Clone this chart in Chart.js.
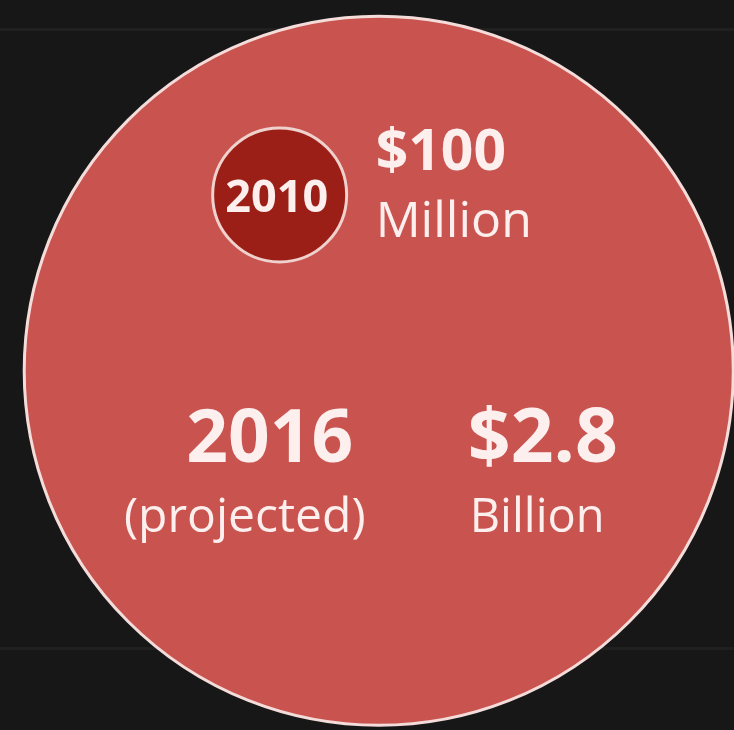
<!DOCTYPE html>
<html>
<head>
<meta charset="utf-8">
<title>Market size 2010 vs 2016</title>
<script src="https://cdn.jsdelivr.net/npm/chart.js@4.4.1/dist/chart.umd.min.js"></script>
<style>
    html, body { margin: 0; padding: 0; background: #171717; }
    .chart-box { position: relative; width: 734px; height: 730px; }
</style>
</head>
<body>
<div class="chart-box">
    <canvas id="chartMercado"></canvas>
</div>
<script>
// Years and market value (in millions of dollars)
const years = ['2010', '2016'];
const yearNotes = ['', '(projected)'];
const marketValue = [100, 2800];
const valueLabels = ['$100', '$2.8'];
const valueUnits = ['Million', 'Billion'];

// Where each bubble sits on the 0-100 layout grid
const bubbleX = [38.1, 51.6];
const bubbleY = [73.3, 49.2];

// Faint horizontal guide lines
const guideLines = [11.2, 95.9];

document.addEventListener('DOMContentLoaded', function () {
    const fillColors = ['#9b1f16', '#c9534e'];
    const borderColors = ['#efd2cd', '#f3dcd9'];
    const borderWidths = [3, 3];
    const radiusPerRoot = 6.7; // bubble area follows the value

    const textColor = '#fcefee';
    const fontFamily = '"Open Sans", "Noto Sans", sans-serif';

    // labels drawn next to / inside each bubble
    const bubbleText = {
        id: 'bubbleText',
        afterDatasetsDraw(chart) {
            const ctx = chart.ctx;
            ctx.save();
            ctx.fillStyle = textColor;
            ctx.textBaseline = 'alphabetic';

            years.forEach((year, i) => {
                const el = chart.getDatasetMeta(i).data[0];
                if (!el) return;
                const cx = el.x;
                const cy = el.y;

                if (yearNotes[i] === '') {
                    // small bubble: year inside, value to the right
                    ctx.textAlign = 'center';
                    ctx.font = 'bold 45px ' + fontFamily;
                    ctx.fillText(year, cx - 3, cy + 17);

                    ctx.textAlign = 'left';
                    ctx.font = 'bold 57px ' + fontFamily;
                    ctx.fillText(valueLabels[i], cx + 96, cy - 25);
                    ctx.font = '50px ' + fontFamily;
                    ctx.fillText(valueUnits[i], cx + 96, cy + 42);
                } else {
                    // big bubble: year on the left, value on the right
                    ctx.textAlign = 'center';
                    ctx.font = 'bold 73px ' + fontFamily;
                    ctx.fillText(year, cx - 109, cy + 91);
                    ctx.font = '48px ' + fontFamily;
                    ctx.fillText(yearNotes[i], cx - 134, cy + 161);

                    ctx.textAlign = 'left';
                    ctx.font = 'bold 75px ' + fontFamily;
                    ctx.fillText(valueLabels[i], cx + 89, cy + 91);
                    ctx.font = '47px ' + fontFamily;
                    ctx.fillText(valueUnits[i], cx + 91, cy + 161);
                }
            });
            ctx.restore();
        }
    };

    const datasets = years.map((year, i) => ({
        label: year,
        data: [{ x: bubbleX[i], y: bubbleY[i] }],
        backgroundColor: fillColors[i],
        borderColor: borderColors[i],
        borderWidth: borderWidths[i],
        radius: () => radiusPerRoot * Math.sqrt(marketValue[i]),
        hoverRadius: 0,
        order: i,
        clip: false
    }));

    const ctx = document.getElementById('chartMercado').getContext('2d');
    new Chart(ctx, {
        type: 'bubble',
        data: { datasets: datasets },
        options: {
            responsive: true,
            maintainAspectRatio: false,
            animation: false,
            events: [],
            layout: { padding: 0, autoPadding: false },
            plugins: {
                legend: { display: false },
                tooltip: { enabled: false }
            },
            scales: {
                x: {
                    type: 'linear',
                    min: 0,
                    max: 100,
                    display: false
                },
                y: {
                    type: 'linear',
                    min: 0,
                    max: 100,
                    afterBuildTicks: (axis) => {
                        axis.ticks = guideLines.map(v => ({ value: v }));
                    },
                    ticks: { display: false },
                    border: { display: false },
                    grid: {
                        color: 'rgba(255, 255, 255, 0.04)',
                        lineWidth: 3,
                        drawTicks: false
                    }
                }
            }
        },
        plugins: [bubbleText]
    });
});
</script>
</body>
</html>
